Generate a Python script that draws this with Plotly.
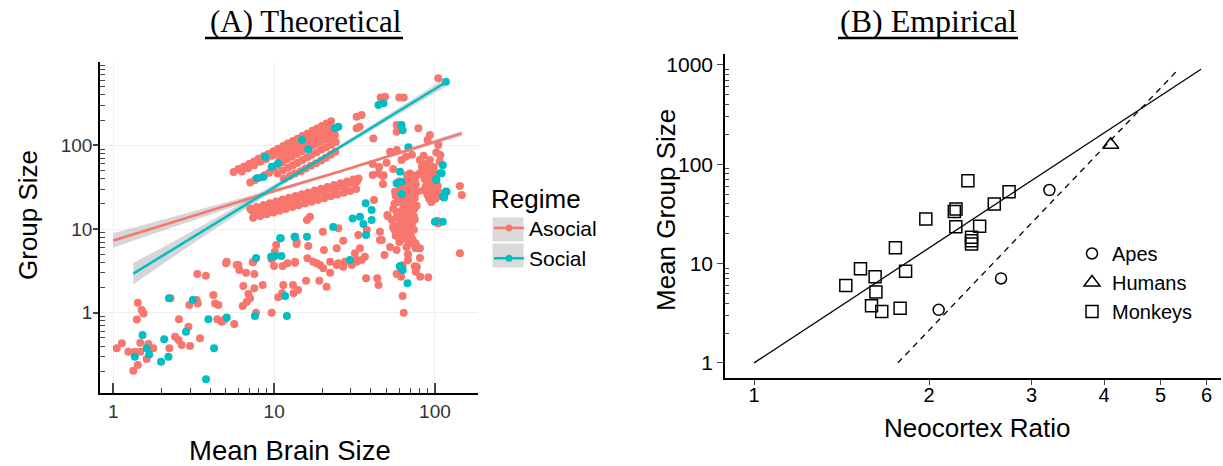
import plotly.graph_objects as go

# ---------------- Panel A data ----------------
asocial_points = [
    (1.05,0.376),(1.13,0.431),(1.24,0.342),(1.36,0.342),(1.33,0.203),(1.42,0.237),(1.42,1.32),(1.50,1.08),
    (1.54,0.98),(1.40,0.83),(1.47,0.438),(1.47,0.342),(1.65,0.423),(1.77,0.376),(1.61,0.28),(2.23,0.376),
    (2.27,1.49),(2.42,0.517),(2.54,0.472),(2.66,0.411),(2.56,0.834),(2.93,0.68),(3.0,0.40),(2.97,1.24),
    (3.30,1.42),(3.35,1.29),(3.33,2.90),(3.76,2.77),(3.46,0.494),(4.19,1.63),(4.29,1.29),(4.50,1.24),
    (4.43,0.834),(4.72,0.78),(4.95,0.834),(5.65,0.733),(5.02,3.89),(5.85,3.72),(6.08,3.24),(6.69,3.0),
    (7.53,2.90),(7.36,4.0),(6.43,2.08),(7.53,1.96),(8.49,2.14),(6.92,1.67),(7.08,1.49),(6.76,1.35),
    (6.38,1.20),(7.72,1.0),(9.66,1.0),(10.3,6.44),(9.98,3.61),(11.3,3.61),(12.1,3.89),(13.8,6.62),
    (13.5,3.96),(11.4,2.14),(11.2,1.71),(10.6,1.53),(13.1,2.14),(13.2,1.71),(14.1,1.87),
    (47.3,43.0),(47.5,34.5),(56.5,27.9),(41.8,22.2),(37.7,9.73),(50.6,14.7),(55.1,10.6),(46.7,7.39),
    (33.4,8.48),(25.1,10.2),(20.1,9.29),(16.0,12.8),(16.7,14.0),(13.8,7.05),(26.9,7.25),(24.5,5.88),
    (20.4,5.61),(16.3,6.27),(16.1,4.47),(13.5,4.07),(31.8,5.13),(27.6,4.07),(25.1,3.89),(32.6,4.27),
    (36.7,4.67),(34.2,5.88),(22.3,4.07),(18.4,3.89),(9.66,4.35),(10.1,5.36),(7.43,4.07),(5.99,3.72),
    (5.07,4.07),(45.5,9.29),(80.7,5.88),(77.1,3.55),(143,5.13),(143,32.7),(147,25.5),(103.5,12.6),
    (105,11.7),(105,27.9),
    (15.8,2.41),(19.1,2.41),(21.2,2.05),(37.3,2.58),(43.8,2.58),(44.6,2.14),(57.8,2.90),(61.6,2.69),
    (63,1.58),(64,1.0),(77,3.49),(76,3.09),(81,2.69),(91,2.65),(68,4.27),(17.5,4.07),(19.3,3.72),
    (20.2,3.39),(22.3,3.0),(24.5,3.72),(26.9,3.55),(30.4,3.72),(32.6,4.07),(35,4.27),
    (21.5,150),(20.5,140),(32.6,220),(35,230),(32.6,160),(34,167),(41.4,121),(49,381),(46,372),
    (60,374),(64,374),(105,632),(57.8,175),(57.8,145),(78.9,160),(93,133),(90,116),(105,101),
    (108,76.6),(52.6,84),(58,88),(66,73),(72,77),(62,67),(80.7,67),(83,55.5),(80.7,46.3),(93,67),
    (98,55),(100,46),(41,44.2),(44.6,46),(48,44),(77,44),(14.5,113),
    (41,60),(45,55),(50,62),(55,52),(88,60),(85,75),(102,82),(107,64),
    # upper streak (two rows)
    (5.6,48),(6.0,52),(6.5,56),(7.0,60),(7.5,64),(8.0,69),(8.6,74),(9.2,79),(9.9,85),(10.6,91),
    (11.4,98),(12.2,105),(13.1,113),(14.0,120),(15.0,129),(16.1,138),(17.3,149),(18.5,159),
    (19.8,170),(21.2,182),(22.6,194),
    (6.3,48.8),(6.9,53.4),(7.5,58),(8.2,63.5),(8.9,68.9),(9.7,75),(10.5,81.3),(11.4,88.2),(12.4,96),
    (13.5,104.5),(14.6,113),(15.9,123),(17.2,133),(18.7,145),(20.3,157),(22.0,170),
    (7.1,36),(7.6,38.5),(8.1,41),(8.7,44),(9.3,47),(9.9,51),
    # dense blob below the upper streak
    (10.8,72),(11.6,78),(12.4,84),(13.3,91),(14.2,98),(15.2,105),(16.3,112),(17.4,120),(18.6,128),
    (19.9,136),(21.3,145),(22.8,152),
    (10.4,58),(11.2,63),(12.0,68),(12.9,73),(13.8,79),(14.8,85),(15.8,91),(16.9,97),(18.1,104),
    (19.4,111),(20.8,118),(22.3,126),(23.9,133),
    (10.5,46),(11.3,50),(12.2,54),(13.1,58),(14.0,62),(15.0,67),(16.1,72),(17.2,77),(18.4,83),
    (19.7,89),(21.1,95),(22.6,102),(24.2,110),
    (11.5,40),(12.5,43),(13.5,46),(14.6,49),(15.7,53),(16.9,57),(18.2,61),(19.6,66),(21.0,71),
    (22.5,77),(24.0,84),
    # lower long band
    (7.1,17.5),(7.8,18.4),(8.6,19.4),(9.4,20.3),(10.3,21.4),(11.3,22.5),(12.4,23.7),(13.6,24.9),
    (14.9,26.1),(16.3,27.4),(17.9,28.8),(19.6,30.3),(21.5,31.8),(23.6,33.5),(25.9,35.2),(28.4,37.0),
    (31.1,39.0),(33.5,40.2),
    (7.4,13.6),(8.2,14.3),(9.0,15.0),(9.9,15.8),(10.8,16.6),(11.8,17.4),(13.0,18.3),(14.2,19.2),
    (15.6,20.2),(17.1,21.2),(18.7,22.3),(20.5,23.4),(22.5,24.6),(24.7,25.8),(27.1,27.1),(29.7,28.5),
    (32.4,30.0),
    (7.7,15.8),(8.9,17.1),(10.2,18.4),(11.8,19.9),(13.6,21.5),(15.6,23.2),(18.0,25.0),(20.7,26.9),
    (23.8,29.0),(27.4,31.3),(31.5,34.5),
    (7.3,16.5),(8.2,17.4),(9.2,18.5),(10.0,19.1),(11.0,20.3),(12.1,21.4),(13.2,22.3),(14.5,23.6),
    (16.0,24.9),(17.5,26.3),(19.2,27.6),(21.0,29.1),(23.0,30.6),(25.2,32.2),(27.8,33.9),(30.3,35.6),
    (32.8,37.3),
    # right column 1
    (70,46),(74,43),(68,40),(72,37),(76,34),(69,31),(73,29),(66,27),(71,25),(75,23.5),(68,22),
    (72,20.5),(64,19.5),(70,18.5),(74,17.2),(67,16.2),(71,15.2),(62,14.5),(69,13.8),(75,13),
    (65,12.3),(72,11.6),(59,11),(68,10.4),(74,9.8),(63,9.2),(70,8.7),(57,8.3),(66,7.9),(73,7.4),
    (60,7.0),(76,6.7),(54,12.8),(58,16),(56,20),(61,23),(63,31),(60,37),(78,28),(77,19),
    (67,44),(71,41),(75,38),(65,35),(70,33),(74,30),(67,28.5),(72,26.5),(64,24),(69,23.5),(73,21.5),
    (66,20.8),(71,19.5),(75,18),(63,17),(68,17.5),(72,16.5),(65,15.5),(69,14.8),(74,14.2),(67,13.2),
    (71,12.7),(62,12),(66,11.3),(70,10.9),(64,10),(72,10),(61,9.6),(67,9.3),(59,8.8),(65,8.5),
    (71,8.1),(62,7.6),(68,7.3),(56,9.8),(58,13.8),(55,17.5),(59,21),(57,25),(60,29),(62,34),
    # right column 2
    (90,55),(94,50),(88,45),(96,41),(91,37),(99,34),(93,31),(97,28),(90,25.5),(101,23),(95,21),
    (104,33),(86,40),
    (92,52),(89,48),(95,46),(93,43),(90,39),(97,37),(94,34),(91,29),(99,30),(96,25),(92,23),
    (100,26),(88,33),(85,29),
    # spread under the columns
    (45.5,7.4),(51,14.2),(55,10.6),(57.8,8.9),(52.6,6.1),(60.7,7.4),(66.5,6.1),(72,6.7),(76,5.9),
    (48.6,4.9),(57.8,5.6),(68,5.0),(80.7,4.5),(63,3.7),(75,3.6),
]

social_points = [
    (1.52,0.542),(1.61,0.376),(1.67,0.318),(1.36,0.298),(1.98,0.26),(2.07,0.481),(2.20,0.298),
    (2.22,1.49),(2.83,0.593),(3.12,1.42),(3.90,0.834),(4.23,0.376),(3.77,0.16),(5.07,0.88),
    (7.72,4.5),(7.6,0.913),(9.57,4.67),(10.1,4.76),(11.1,4.76),(11.0,7.74),(13.4,8.09),(11.7,1.58),
    (12.0,0.913),
    (60.7,48.4),(57.8,35.2),(62.1,26.2),(37.1,20.3),(40.4,16.9),(34.2,14.0),(30.8,13.4),(35.9,11.5),
    (40.4,12.8),(37.3,8.48),(23.3,10.6),(16.0,8.09),(13.5,8.09),(10.9,7.74),(29.6,4.27),(60.7,3.55),
    (100,12.2),(112,12.2),(102,39.3),(108,46.3),(118,27.9),(114,23.9),
    (60.7,3.61),(63,3.24),(67.5,2.25),
    (23.9,160),(25.1,167),(44.6,303),(47.9,318),(117,575),(62,175),(63,152),(68.4,94.6),(14.9,116),
    (112,58),(110,46.3),(102,38.5),(117,28),(112,24.4),
    (7.8,40.4),(8.56,42),(9.66,55.5),(10.6,61),(16.3,89.6),(8.8,73),(62,36.7),
]

# fitted trends (value on the line and half-width of the grey band in decades)
asocial_fit_x = [1.0, 2.0, 4.0, 10.0, 25.0, 60.0, 147.0]
asocial_fit_y = [7.3, 11.0, 16.6, 28.5, 48.0, 81.1, 139.0]
asocial_fit_hw = [0.085, 0.065, 0.045, 0.025, 0.015, 0.02, 0.03]
social_fit_x = [1.33, 2.0, 4.0, 10.0, 25.0, 60.0, 117.0]
social_fit_y = [2.93, 4.73, 10.7, 31.4, 92.3, 258.0, 568.0]
social_fit_hw = [0.13, 0.10, 0.065, 0.035, 0.025, 0.035, 0.05]

# ---------------- Panel B data ----------------
monkeys_x = [1.438,1.524,1.615,1.62,1.592,1.658,1.75,1.822,1.783,1.974,2.21,2.225,2.223,2.366,2.366,2.366,2.443,2.589,2.745,2.332]
monkeys_y = [6.01,8.89,7.37,5.18,3.76,3.29,14.45,8.35,3.56,28.1,33.5,35.5,23.5,18.4,17.0,15.7,23.8,39.9,52.8,68.3]
apes_x = [3.22, 2.659, 2.077]
apes_y = [55, 7.08, 3.42]
humans_x = [4.105]
humans_y = [157]
solid_fit_x = [1.0, 5.87]
solid_fit_y = [1.0, 904]
dashed_fit_x = [1.767, 5.355]
dashed_fit_y = [1.0, 889]

A_TICKS = [1, 10, 100]
B_XTICKS = [1, 2, 3, 4, 5, 6]
B_YTICKS = [1, 10, 100, 1000]

SALMON = '#F8766D'
TEAL = '#00BFC4'
SANS = 'Liberation Sans, Arial, sans-serif'
SERIF = 'Liberation Serif, Times New Roman, serif'
MSIZE = 8

fig = go.Figure()

fig.add_trace(go.Scatter(x=[p[0] for p in asocial_points], y=[p[1] for p in asocial_points],
                         mode='markers', marker=dict(size=MSIZE, color=SALMON), showlegend=False,
                         xaxis='x', yaxis='y', hoverinfo='skip'))
fig.add_trace(go.Scatter(x=[p[0] for p in social_points], y=[p[1] for p in social_points],
                         mode='markers', marker=dict(size=MSIZE, color=TEAL), showlegend=False,
                         xaxis='x', yaxis='y', hoverinfo='skip'))

for fx, fy, hw in [(asocial_fit_x, asocial_fit_y, asocial_fit_hw),
                   (social_fit_x, social_fit_y, social_fit_hw)]:
    up = [y * 10 ** h for y, h in zip(fy, hw)]
    lo = [y / 10 ** h for y, h in zip(fy, hw)]
    fig.add_trace(go.Scatter(x=fx + fx[::-1], y=up + lo[::-1], fill='toself',
                             fillcolor='rgba(153,153,153,0.4)', line=dict(width=0),
                             mode='lines', showlegend=False, xaxis='x', yaxis='y', hoverinfo='skip'))
for fx, fy, col in [(asocial_fit_x, asocial_fit_y, SALMON), (social_fit_x, social_fit_y, TEAL)]:
    fig.add_trace(go.Scatter(x=fx, y=fy, mode='lines', line=dict(color=col, width=2.5),
                             showlegend=False, xaxis='x', yaxis='y', hoverinfo='skip'))

# legend keys for panel A
for name, col in [('Asocial', SALMON), ('Social', TEAL)]:
    fig.add_trace(go.Scatter(x=[None], y=[None], mode='lines+markers', name=name,
                             line=dict(color=col, width=2.5), marker=dict(size=7, color=col),
                             legend='legend', xaxis='x', yaxis='y'))

# panel B
fig.add_trace(go.Scatter(x=solid_fit_x, y=solid_fit_y, mode='lines', line=dict(color='black', width=1.3),
                         showlegend=False, xaxis='x2', yaxis='y2', hoverinfo='skip'))
fig.add_trace(go.Scatter(x=dashed_fit_x, y=dashed_fit_y, mode='lines',
                         line=dict(color='black', width=1.3, dash='6px,5px'),
                         showlegend=False, xaxis='x2', yaxis='y2', hoverinfo='skip'))
fig.add_trace(go.Scatter(x=apes_x, y=apes_y, mode='markers', name='Apes',
                         marker=dict(symbol='circle-open', size=11, color='black', line=dict(width=1.5)),
                         legend='legend2', xaxis='x2', yaxis='y2'))
fig.add_trace(go.Scatter(x=humans_x, y=humans_y, mode='markers', name='Humans',
                         marker=dict(symbol='triangle-up-open', size=14, color='black', line=dict(width=1.5)),
                         legend='legend2', xaxis='x2', yaxis='y2'))
fig.add_trace(go.Scatter(x=monkeys_x, y=monkeys_y, mode='markers', name='Monkeys',
                         marker=dict(symbol='square-open', size=12, color='black', line=dict(width=1.5)),
                         legend='legend2', xaxis='x2', yaxis='y2'))

W, H = 1223, 466
def px(x):
    return x / W
def py(y):
    return (H - y) / H

def minor_vals(decades):
    return [m * d for d in decades for m in range(2, 10)]

axis_common = dict(type='log', showline=True, linecolor='black', zeroline=False)

def note(text, x, y, size, family=SANS, angle=0):
    return dict(text=text, x=px(x), y=py(y), xref='paper', yref='paper', showarrow=False,
                xanchor='center', yanchor='middle', textangle=angle,
                font=dict(family=family, size=size, color='black'))

fig.update_layout(
    width=W, height=H, margin=dict(l=0, r=0, t=0, b=0),
    paper_bgcolor='white', plot_bgcolor='white',
    font=dict(family=SANS, color='black'),
    xaxis=dict(axis_common, domain=[px(100), px(478)], range=[-0.083, 2.268], anchor='y',
               tickvals=A_TICKS, ticktext=[str(v) for v in A_TICKS], ticks='inside', ticklen=10,
               tickwidth=1.5, linewidth=1.5, showgrid=True, gridcolor='#efefef', gridwidth=1,
               tickfont=dict(size=19, color='#333333'),
               minor=dict(tickvals=minor_vals([1, 10]), ticks='inside', ticklen=5, tickwidth=1.2,
                          showgrid=False)),
    yaxis=dict(axis_common, domain=[py(393), py(62)], range=[-0.959, 2.996], anchor='x',
               tickvals=A_TICKS, ticktext=[str(v) for v in A_TICKS], ticks='outside', ticklen=5,
               ticklabelstandoff=-3,
               tickwidth=1.5, linewidth=1.5, showgrid=True, gridcolor='#efefef', gridwidth=1,
               tickfont=dict(size=19, color='#333333'),
               minor=dict(tickvals=minor_vals([0.1, 1, 10, 100]), ticks='inside', ticklen=5,
                          tickwidth=1.2, showgrid=False)),
    xaxis2=dict(axis_common, domain=[px(725), px(1221)], range=[-0.05, 0.803], anchor='y2',
                tickvals=B_XTICKS, ticktext=[str(v) for v in B_XTICKS], ticks='outside', ticklen=5,
                ticklabelstandoff=-7,
                tickwidth=1.2, linewidth=1.5, showgrid=False, tickfont=dict(size=20)),
    yaxis2=dict(axis_common, domain=[py(378), py(54)], range=[-0.152, 3.11], anchor='x2',
                tickvals=B_YTICKS, ticktext=[str(v) for v in B_YTICKS], ticks='outside', ticklen=6,
                tickwidth=1.2, linewidth=1.5, showgrid=False, tickfont=dict(size=21),
                minor=dict(tickvals=minor_vals([1, 10, 100]), ticks='inside', ticklen=4,
                           tickwidth=1, showgrid=False)),
    legend=dict(title=dict(text='Regime', font=dict(size=26)), font=dict(size=21),
                x=px(489), y=py(174), xanchor='left', yanchor='top', bgcolor='rgba(0,0,0,0)',
                itemwidth=30, tracegroupgap=0),
    legend2=dict(font=dict(size=20), x=px(1072), y=py(234), xanchor='left', yanchor='top',
                 bgcolor='rgba(0,0,0,0)', itemwidth=30, tracegroupgap=0),
    annotations=[
        note('(A) Theoretical', 305, 21, 31, SERIF),
        note('(B) Empirical', 928, 21, 32, SERIF),
        note('Mean Brain Size', 290, 450, 27.5),
        note('Group Size', 28, 215, 26, angle=-90),
        note('Neocortex Ratio', 977, 428, 26),
        note('Mean Group Size', 666, 210, 26, angle=-90),
    ],
    shapes=[
        dict(type='line', xref='paper', yref='paper', x0=px(205), x1=px(403), y0=py(38), y1=py(38),
             line=dict(color='black', width=2.5)),
        dict(type='line', xref='paper', yref='paper', x0=px(838), x1=px(1018), y0=py(38), y1=py(38),
             line=dict(color='black', width=2.5)),
        dict(type='rect', xref='paper', yref='paper', x0=px(492), x1=px(524), y0=py(242), y1=py(217),
             fillcolor='#dadada', line=dict(color='white', width=1), layer='below'),
        dict(type='rect', xref='paper', yref='paper', x0=px(492), x1=px(524), y0=py(268), y1=py(243),
             fillcolor='#dadada', line=dict(color='white', width=1), layer='below'),
    ],
)

fig.write_html('out.html')
